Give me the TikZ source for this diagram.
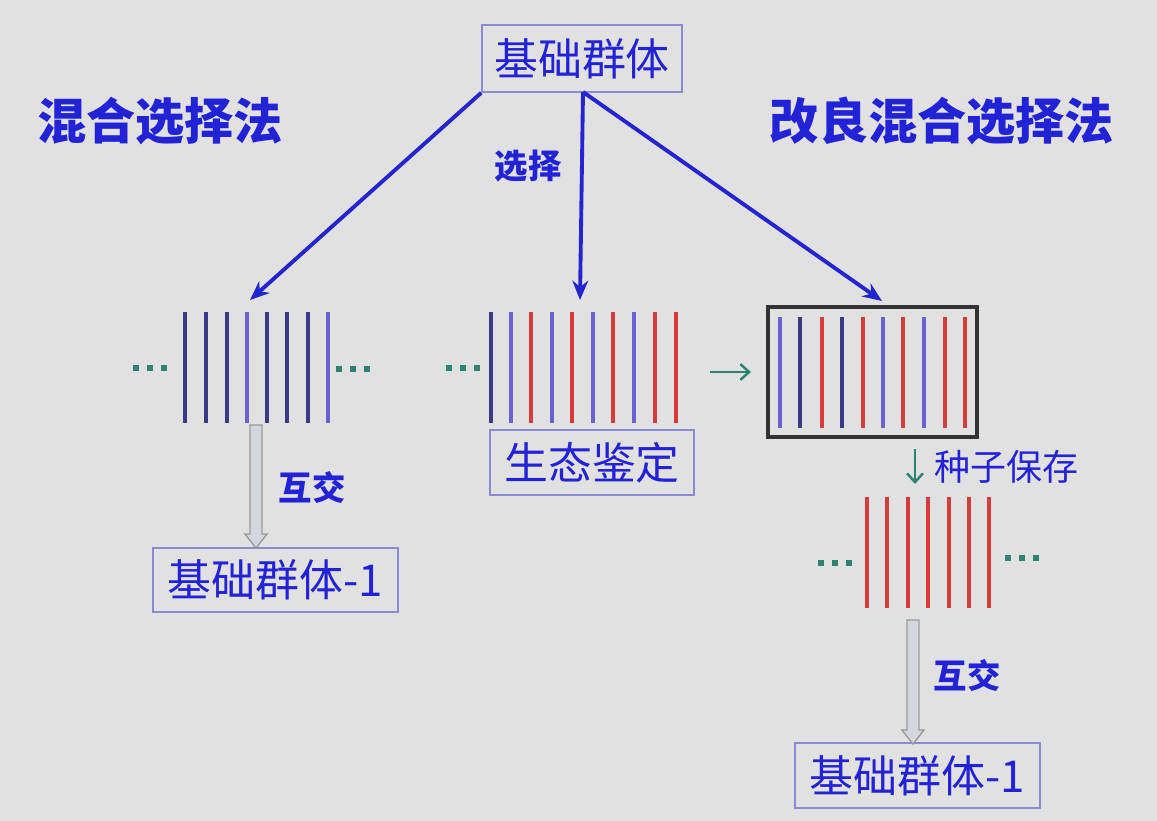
\documentclass[tikz,border=0pt]{standalone}
\usepackage{fontspec}
\newfontfamily\cjk{Noto Sans CJK SC}
\usetikzlibrary{arrows.meta}
\definecolor{bg}{HTML}{E1E1E1}
\definecolor{txtblue}{HTML}{2222D6}
\definecolor{arrblue}{HTML}{2424D0}
\definecolor{boxline}{HTML}{8A8AD4}
\definecolor{barA}{HTML}{3A3A86}
\definecolor{barB}{HTML}{6A62D0}
\definecolor{barred}{HTML}{D63A3A}
\definecolor{teal}{HTML}{2E8272}
\definecolor{hollowfill}{HTML}{D4D8DC}
\definecolor{hollowline}{HTML}{9A9A9A}
\tikzset{
  labelbox/.style={draw=boxline, line width=0.9pt, text=txtblue, font=\cjk\fontsize{25}{29}\selectfont, inner sep=0pt, anchor=center},
  title/.style={text=txtblue, font=\cjk\bfseries\fontsize{28}{32}\selectfont, inner sep=0pt},
  smalllabel/.style={text=txtblue, font=\cjk\bfseries\fontsize{19}{22}\selectfont, inner sep=0pt},
  plainlabel/.style={text=txtblue, font=\cjk\fontsize{20.5}{24}\selectfont, inner sep=0pt},
  selarrow/.style={draw=arrblue, line width=2.2pt, -{Stealth[length=11pt,width=9pt]}},
  bar/.style={line width=2pt},
  tealarrow/.style={draw=teal, line width=1.4pt, -{Straight Barb[length=5pt,width=9pt]}},
  hollow/.style={fill=hollowfill, draw=hollowline, line width=0.8pt},
  keepbox/.style={draw=black!80, line width=2pt, inner sep=0pt},
}
\newcommand{\tdots}[2]{%
  \foreach \k in {0,1,2} {\fill[teal] (#1+\k*14-2.8,#2-2.8) rectangle (#1+\k*14+2.8,#2+2.8);}}
\newcommand{\hollowarr}[3]{% x, top, bottom
  \filldraw[hollow] (#1-6,#2) -- (#1+6,#2) -- (#1+6,#3-14) -- (#1+11,#3-14) -- (#1,#3) -- (#1-11,#3-14) -- (#1-6,#3-14) -- cycle;}
\begin{document}
\begin{tikzpicture}[x=0.02cm,y=-0.02cm]
\fill[bg] (0,0) rectangle (1157,821);
\useasboundingbox (0,0) rectangle (1157,821);

% titles
\node[title] (t1) at (160,121) {混合选择法};
\node[title] (t2) at (942,121) {改良混合选择法};

% boxes
\node[labelbox, minimum width=4cm, minimum height=1.34cm] (base) at (582,58.5) {基础群体};
\node[labelbox, minimum width=4.08cm, minimum height=1.3cm] (eco) at (592,462.5) {生态鉴定};
\node[labelbox, minimum width=4.9cm, minimum height=1.28cm] (b1) at (275.5,580) {基础群体-1};
\node[labelbox, minimum width=4.9cm, minimum height=1.3cm] (b2) at (917.5,775.5) {基础群体-1};
\node[keepbox, minimum width=4.18cm, minimum height=2.6cm] (keep) at (872.5,372) {};

% selection arrows
\coordinate (eL) at (250,300);
\coordinate (eM) at (580,300);
\coordinate (eR) at (882,301);
\coordinate (sM) at (583,92);
\draw[selarrow] (base.south west) -- (eL);
\draw[selarrow] (sM) -- (eM);
\draw[selarrow] (sM) -- (eR);
\node[smalllabel] (sel) at (528,166) {选择};

% left bar group
\foreach \x/\c in {185/barA,206/barA,227/barA,247/barB,267/barA,287/barA,308/barA,328/barB}
  {\draw[bar,\c] (\x,312) -- (\x,423);}
\tdots{136}{368}
\tdots{339}{369}

% middle bar group
\foreach \x/\c in {491/barA,511/barB,531/barred,552/barB,572/barred,593/barB,613/barred,634/barB,655/barred,676/barred}
  {\draw[bar,\c] (\x,312) -- (\x,423);}
\tdots{449}{368}

% teal arrow to box
\coordinate (ta1) at (710,372);
\coordinate (ta2) at (751,372);
\draw[tealarrow] (ta1) -- (ta2);

% bars in kept box
\foreach \x/\c in {780/barB,800/barA,822/barred,842/barA,863/barred,883/barB,903/barred,924/barB,945/barred,965/barred}
  {\draw[bar,\c] (\x,317) -- (\x,428);}

% seed storage
\coordinate (sd1) at (915,449);
\coordinate (sd2) at (915,484);
\draw[tealarrow] (sd1) -- (sd2);
\node[plainlabel, anchor=west] (seed) at (934,467) {种子保存};

% red bars
\foreach \x in {867,887,908,928,949,969,989}
  {\draw[bar,barred] (\x,497) -- (\x,608);}
\tdots{821}{563}
\tdots{1008}{558}

% crossing arrows
\hollowarr{256}{425}{548}
\node[smalllabel] (x1) at (312,488) {互交};
\hollowarr{913}{620}{744}
\node[smalllabel] (x2) at (967,676) {互交};
\end{tikzpicture}
\end{document}
